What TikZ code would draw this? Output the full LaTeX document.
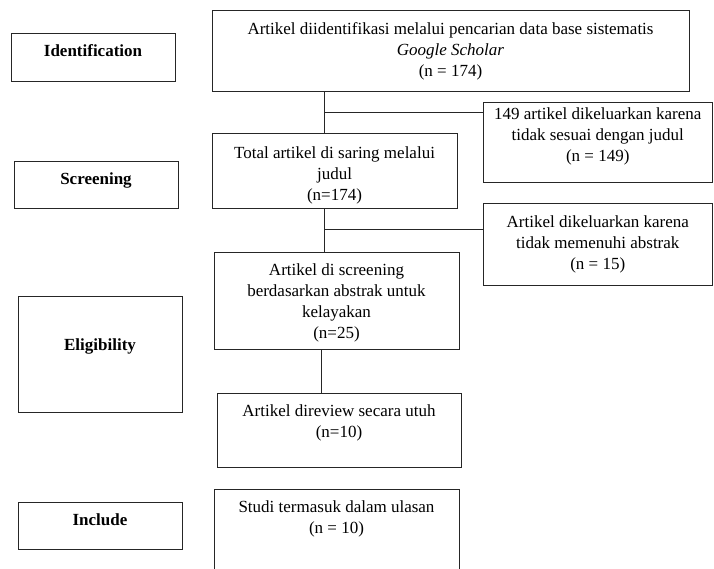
\documentclass[tikz,border=0pt]{standalone}
\usepackage{fontspec}
\setmainfont{Liberation Serif}
\usepackage{tikz}
\usetikzlibrary{positioning, calc}

\begin{document}
\begin{tikzpicture}[
    x=1pt, y=-1pt,
    box/.style={draw=black!85, line width=1pt, rectangle, inner sep=0pt},
    txt/.style={inner sep=0pt, align=center, font=\fontsize{17}{21}\selectfont},
    phase/.style={inner sep=0pt, font=\fontsize{17}{21}\selectfont\bfseries},
    line/.style={draw=black!85, line width=1pt}
]
    \useasboundingbox (0,0) rectangle (714,569);

    % Kolom fase (kiri)
    \node[box, minimum width=164, minimum height=48] (idf) at (93,58) {};
    \node[phase, below=10.5pt of idf.north] (idftxt) {Identification};
    \node[box, minimum width=164, minimum height=47] (scr) at (96,185.5) {};
    \node[phase, below=11.5pt of scr.north] (scrtxt) {Screening};
    \node[box, minimum width=164, minimum height=116] (elg) at (100,354) {};
    \node[phase, below=43.5pt of elg.north] (elgtxt) {Eligibility};
    \node[box, minimum width=164, minimum height=47] (inc) at (100,525.5) {};
    \node[phase, below=11.5pt of inc.north] (inctxt) {Include};

    % Alur utama
    \node[box, minimum width=477, minimum height=81] (srch) at (450.5,51.5) {};
    \node[txt, below=11.5pt of srch.north] (srchtxt) {Artikel diidentifikasi melalui pencarian data base sistematis\\\textit{Google Scholar}\\(n = 174)};
    \node[box, minimum width=245, minimum height=75] (judul) at (334.5,171.5) {};
    \node[txt, below=13pt of judul.north] (judultxt) {Total artikel di saring melalui\\judul\\(n=174)};
    \node[box, minimum width=245, minimum height=97] (abstr) at (336.5,300.5) {};
    \node[txt, below=12.5pt of abstr.north] (abstrtxt) {Artikel di screening\\berdasarkan abstrak untuk\\kelayakan\\(n=25)};
    \node[box, minimum width=244, minimum height=74] (review) at (339,430) {};
    \node[txt, below=12pt of review.north] (reviewtxt) {Artikel direview secara utuh\\(n=10)};
    \node[box, minimum width=245, minimum height=86] (study) at (336.5,532) {};
    \node[txt, below=12.5pt of study.north] (studytxt) {Studi termasuk dalam ulasan\\(n = 10)};

    % Artikel yang dikeluarkan
    \node[box, minimum width=229.5, minimum height=80] (excl1) at (597.75,143) {};
    \node[txt, below=5.5pt of excl1.north] (excl1txt) {149 artikel dikeluarkan karena\\tidak sesuai dengan judul\\(n = 149)};
    \node[box, minimum width=229.5, minimum height=81] (excl2) at (597.75,244.5) {};
    \node[txt, below=12.5pt of excl2.north] (excl2txt) {Artikel dikeluarkan karena\\tidak memenuhi abstrak\\(n = 15)};

    % Garis penghubung
    \coordinate (cab1) at (324,113);
    \draw[line] (srch.south -| cab1) -- (judul.north -| cab1);
    \draw[line] (cab1) -- (cab1 -| excl1.west);
    \coordinate (cab2) at (324,230);
    \draw[line] (judul.south -| cab2) -- (abstr.north -| cab2);
    \draw[line] (cab2) -- (cab2 -| excl2.west);
    \coordinate (cab3) at (321,370);
    \draw[line] (abstr.south -| cab3) -- (review.north -| cab3);

\end{tikzpicture}
\end{document}
